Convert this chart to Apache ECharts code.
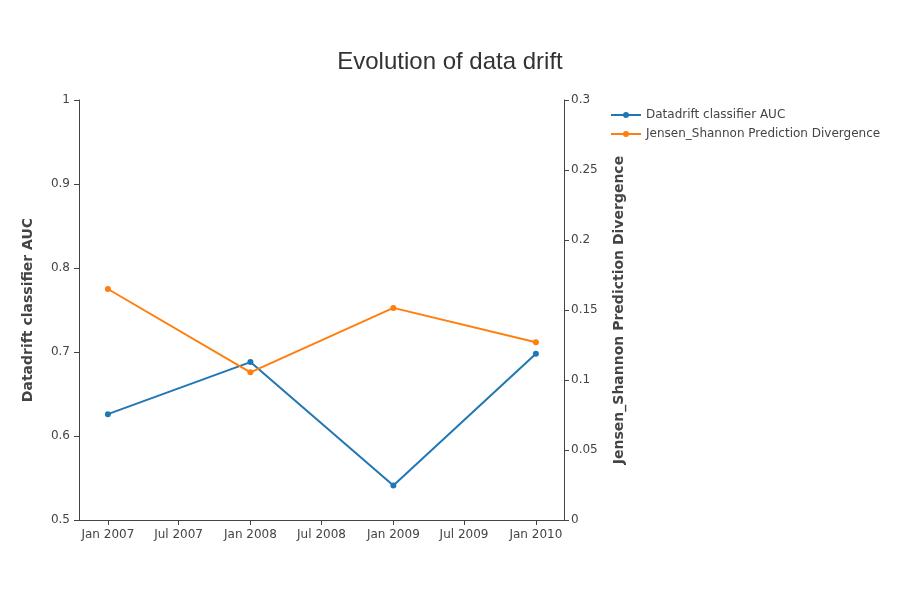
<!DOCTYPE html>
<html>
<head>
<meta charset="utf-8">
<title>Evolution of data drift</title>
<script src="https://cdn.jsdelivr.net/npm/echarts@6/dist/echarts.min.js"></script>
<style>
  html, body { margin: 0; padding: 0; background: #fff; }
  #chart { width: 900px; height: 600px; }
</style>
</head>
<body>
<div id="chart"></div>
<script>
  // data
  const dates = ['2007-01-01', '2008-01-01', '2009-01-01', '2010-01-01']
  const auc = [0.626, 0.688, 0.541, 0.698]
  const jsDiv = [0.165, 0.1055, 0.1515, 0.127]
  const xTicks = ['2007-01-01', '2007-07-01', '2008-01-01', '2008-07-01', '2009-01-01', '2009-07-01', '2010-01-01']
  const xRange = ['2006-10-19', '2010-03-14']
  const names = ['Datadrift classifier AUC', 'Jensen_Shannon Prediction Divergence']
  const colors = ['#1f77b4', '#ff7f0e']
  const months = ['Jan', 'Feb', 'Mar', 'Apr', 'May', 'Jun', 'Jul', 'Aug', 'Sep', 'Oct', 'Nov', 'Dec']

  const ts = d => Date.parse(d) // ISO date-only -> UTC
  const font = 'DejaVu Sans, Verdana, sans-serif'
  const axisColor = '#444'

  const chart = echarts.init(document.getElementById('chart'), null, { renderer: 'canvas' })

  function yAxisBase(name, min, max, interval, nameGap, labelMargin) {
    return {
      type: 'value',
      name: name,
      nameLocation: 'middle',
      nameGap: nameGap,
      nameTextStyle: { fontFamily: font, fontSize: 14, fontWeight: 'bold', color: axisColor },
      min: min,
      max: max,
      interval: interval,
      axisLine: { show: true, lineStyle: { color: axisColor, width: 1 } },
      axisTick: { show: true, length: 5, lineStyle: { color: axisColor } },
      axisLabel: { fontFamily: font, fontSize: 12, color: axisColor, margin: labelMargin },
      splitLine: { show: false }
    }
  }

  // x is a plain value axis on timestamps, ticks put on the first of Jan / Jul
  chart.setOption({
    backgroundColor: '#fff',
    animation: false,
    title: {
      text: 'Evolution of data drift',
      left: 'center',
      top: 45,
      textStyle: { fontFamily: 'Liberation Sans, Arial, sans-serif', fontSize: 24, fontWeight: 'normal', color: '#333' }
    },
    legend: {
      orient: 'vertical',
      left: 610,
      top: 109,
      padding: 0,
      itemWidth: 30,
      itemHeight: 7.5, // line icon symbol = 0.8 * itemHeight -> 6px marker
      itemGap: 7,
      data: names,
      textStyle: { fontFamily: font, fontSize: 12, color: axisColor }
    },
    grid: { left: 79, right: 336, top: 100, bottom: 80, containLabel: false },
    xAxis: {
      type: 'value',
      min: ts(xRange[0]),
      max: ts(xRange[1]),
      axisLine: { show: true, onZero: false, lineStyle: { color: axisColor } },
      axisTick: { show: true, length: 5, lineStyle: { color: axisColor }, customValues: xTicks.map(ts) },
      axisLabel: {
        fontFamily: font,
        fontSize: 12,
        color: axisColor,
        margin: 9,
        customValues: xTicks.map(ts),
        formatter: function(v) {
          const d = new Date(v)
          return months[d.getUTCMonth()] + ' ' + d.getUTCFullYear()
        }
      },
      splitLine: { show: false }
    },
    yAxis: [
      yAxisBase(names[0], 0.5, 1, 0.1, 44, 9),
      Object.assign(yAxisBase(names[1], 0, 0.3, 0.05, 48, 7), { position: 'right' })
    ],
    series: [auc, jsDiv].map((vals, i) => ({
      name: names[i],
      type: 'line',
      yAxisIndex: i,
      symbol: 'circle',
      symbolSize: 6,
      showSymbol: true,
      lineStyle: { color: colors[i], width: 2 },
      itemStyle: { color: colors[i] },
      data: dates.map((d, k) => [ts(d), vals[k]])
    }))
  })
</script>
</body>
</html>
